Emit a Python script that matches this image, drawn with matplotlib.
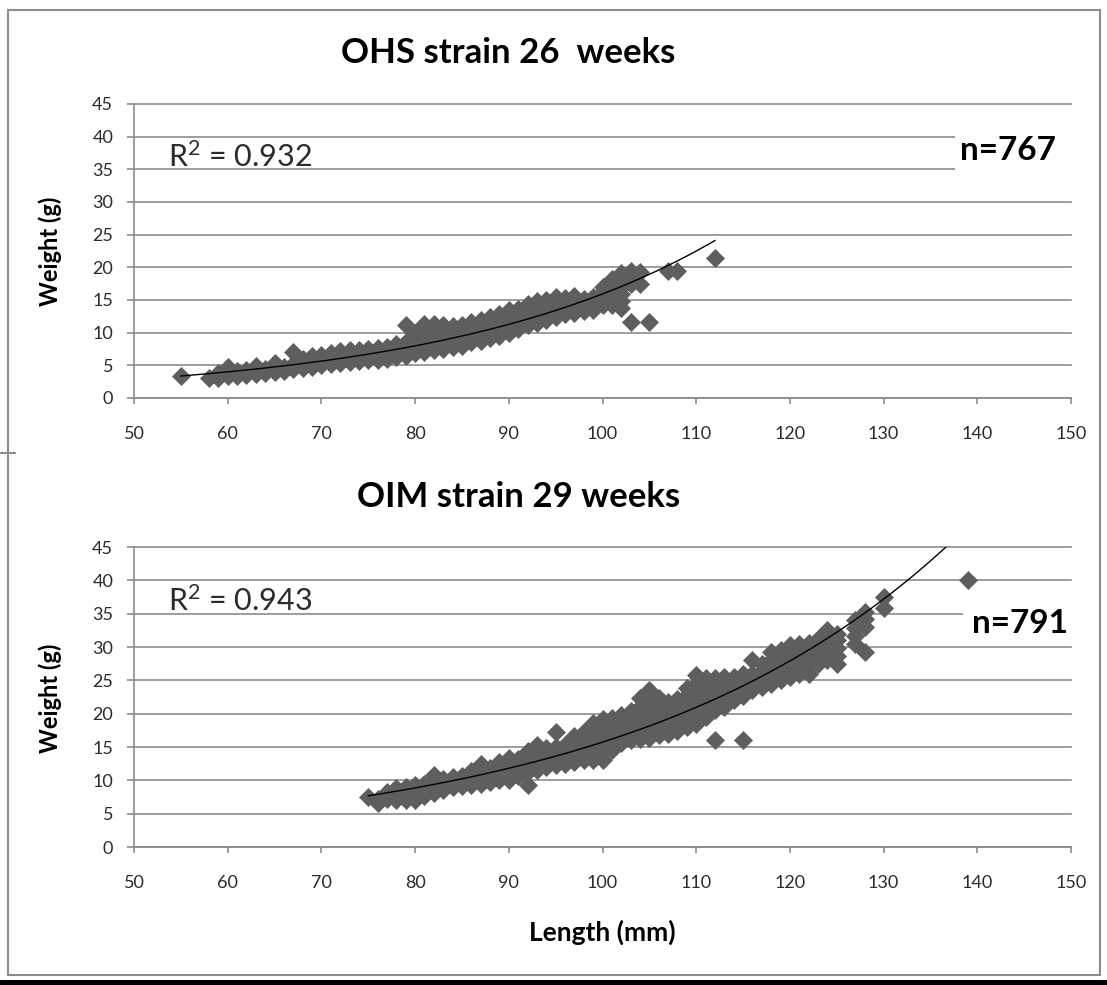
import numpy as np
import matplotlib
matplotlib.use("Agg")
import matplotlib.pyplot as plt
from matplotlib.patches import Rectangle
from matplotlib.lines import Line2D

plt.rcParams['font.family'] = ['Lato', 'DejaVu Sans']

# OHS strain, 26 weeks: weights (g) for each length (mm)
OHS_LENGTHS = [55, 58, 59, 60, 61, 62, 63, 64, 65, 66, 67, 68, 69, 70, 71, 72, 73, 74, 75, 76,
               77, 78, 79, 80, 81, 82, 83, 84, 85, 86, 87, 88, 89, 90, 91, 92, 93, 94, 95, 96,
               97, 98, 99, 100, 101, 102, 103, 104, 105, 107, 108, 112]
OHS_WEIGHTS = [[3.3], [3.0], [3.1, 3.8], [3.3, 4.0, 4.8], [3.4, 4.2], [3.5, 4.3], [3.6, 4.2, 4.9],
               [3.8, 4.5], [4.0, 4.6, 5.4], [4.2, 4.8], [4.4, 5.2, 7.0], [4.6, 5.4, 6.0],
               [4.8, 5.6, 6.4], [5.0, 5.8, 6.6], [5.2, 6.0, 6.9], [5.4, 6.3, 7.2], [5.5, 6.5, 7.4],
               [5.6, 6.6, 7.4], [5.8, 6.7, 7.5], [5.8, 6.8, 7.6], [6.0, 7.0, 7.8], [6.2, 7.2, 8.2],
               [6.5, 7.5, 8.5, 11.2], [6.9, 8.0, 9.0, 10.0], [7.1, 8.2, 9.3, 10.4, 11.3],
               [7.3, 8.4, 9.5, 10.5, 11.4], [7.5, 8.6, 9.7, 10.8, 11.2], [7.8, 8.9, 10.0, 11.0],
               [8.0, 9.1, 10.2, 11.2], [8.5, 9.5, 10.5, 11.6], [8.8, 9.8, 10.8, 11.9],
               [9.2, 10.2, 11.3, 12.4], [9.5, 10.6, 11.7, 12.8], [10.0, 11.0, 12.2, 13.4],
               [10.5, 11.5, 12.6, 13.6], [11.1, 12.2, 13.3, 14.4], [11.5, 12.6, 13.7, 14.8],
               [12.0, 13.0, 14.0, 15.0], [12.4, 13.4, 14.4, 15.4], [12.9, 13.9, 14.8, 15.3],
               [13.0, 14.0, 15.0, 15.6], [13.3, 14.3, 15.2], [13.5, 14.5, 15.5],
               [14.2, 15.2, 16.2, 17.0], [14.2, 15.3, 16.4, 17.5, 18.2],
               [13.8, 14.8, 15.9, 17.0, 18.2, 19.2], [11.6, 17.5, 18.6, 19.5], [17.4, 19.3],
               [11.6], [19.4], [19.4], [21.4]]

# OIM strain, 29 weeks
OIM_LENGTHS = [75, 76, 77, 78, 79, 80, 81, 82, 83, 84, 85, 86, 87, 88, 89, 90, 91, 92, 93, 94,
               95, 96, 97, 98, 99, 100, 101, 102, 103, 104, 105, 106, 107, 108, 109, 110, 111,
               112, 113, 114, 115, 116, 117, 118, 119, 120, 121, 122, 123, 124, 125, 127, 128,
               130, 139]
OIM_WEIGHTS = [[7.5], [6.6, 7.2], [7.2, 8.2], [7.0, 8.0, 8.8], [7.0, 8.0, 9.0], [7.1, 8.2, 9.3],
               [7.6, 8.6, 9.5], [8.1, 9.2, 10.0, 10.8], [8.6, 9.4, 10.2], [9.0, 9.8, 10.5],
               [9.1, 10.0, 10.6], [9.3, 10.3, 11.4], [9.5, 10.5, 11.5, 12.5], [9.8, 10.8, 11.8],
               [10.0, 11.0, 12.0, 12.8], [10.1, 11.1, 12.2, 13.3], [10.6, 11.6, 12.6, 13.2],
               [9.3, 11.3, 12.3, 13.4, 14.4], [11.6, 12.6, 13.6, 14.6, 15.3],
               [12.0, 13.0, 14.0, 14.8], [12.3, 13.3, 14.3, 15.0, 17.3], [12.5, 13.5, 14.5, 15.3],
               [12.8, 13.8, 14.8, 15.8, 16.6], [13.0, 14.0, 15.0, 16.0, 17.2],
               [13.0, 14.2, 15.4, 16.6, 17.8, 18.6], [13.1, 14.3, 15.5, 16.7, 17.9, 19.2],
               [14.6, 15.8, 17.0, 18.2, 19.4], [15.6, 16.7, 17.8, 18.9, 19.8],
               [16.0, 17.1, 18.2, 19.3, 20.4], [16.2, 17.4, 18.6, 19.8, 21.0, 22.4],
               [16.4, 17.6, 18.8, 20.0, 21.2, 22.4, 23.5], [16.8, 18.0, 19.2, 20.4, 21.6, 22.4],
               [17.0, 18.2, 19.4, 20.6, 21.7], [17.4, 18.6, 19.8, 21.0, 22.2],
               [18.0, 19.2, 20.4, 21.6, 22.8, 23.8], [18.5, 19.7, 20.9, 22.1, 23.3, 24.5, 25.8],
               [19.5, 20.7, 21.9, 23.1, 24.3, 25.4], [16.0, 20.5, 21.7, 22.9, 24.1, 25.3],
               [21.0, 22.2, 23.4, 24.5, 25.5], [22.0, 23.2, 24.4, 25.5],
               [16.0, 22.6, 23.8, 25.0, 26.0], [23.5, 24.7, 25.9, 28.0], [24.0, 25.2, 26.4, 27.4],
               [24.5, 25.7, 26.9, 28.1, 29.3], [25.0, 26.2, 27.4, 28.6, 29.6],
               [25.5, 26.7, 27.9, 29.1, 30.3], [26.0, 27.2, 28.4, 29.6, 30.4],
               [26.0, 27.2, 28.4, 29.6, 30.6], [27.5, 28.7, 29.9, 31.2],
               [28.0, 29.2, 30.4, 31.6, 32.5], [27.5, 28.7, 29.9, 31.0, 32.0],
               [30.5, 31.7, 32.9, 34.0], [29.3, 33.0, 34.2, 35.2], [35.8, 37.5], [40.0]]

TITLES = ["OHS strain 26  weeks", "OIM strain 29 weeks"]
R2_LABELS = [r"R$\mathregular{^2}$ = 0.932", r"R$\mathregular{^2}$ = 0.943"]
N_LABELS = ["n=767", "n=791"]
X_TICKS = [50, 60, 70, 80, 90, 100, 110, 120, 130, 140, 150]
Y_TICKS = [0, 5, 10, 15, 20, 25, 30, 35, 40, 45]

W, H = 1107, 985
GRID = '#8c8c8c'
MARK = '#5e5e5e'
TXT = '#2b2b2b'


def flatten(lengths, weights):
    xs, ys = [], []
    for l, ws in zip(lengths, weights):
        for w in ws:
            xs.append(l)
            ys.append(w)
    return np.array(xs, float), np.array(ys, float)


def px_box(left, top, right, bottom):
    return [left / W, 1 - bottom / H, (right - left) / W, (bottom - top) / H]


def ftext(x, y, s, **kw):
    fig.text(x / W, 1 - y / H, s, **kw)


fig = plt.figure(figsize=(W / 100, H / 100), dpi=100)
fig.patch.set_facecolor('white')

ax1 = fig.add_axes(px_box(134, 104, 1071, 398))
ax2 = fig.add_axes(px_box(134, 547, 1071, 847))

panels = [(ax1, OHS_LENGTHS, OHS_WEIGHTS), (ax2, OIM_LENGTHS, OIM_WEIGHTS)]
for ax, lengths, weights in panels:
    x, y = flatten(lengths, weights)
    ax.set_xlim(50, 150)
    ax.set_ylim(0, 45)
    ax.set_axisbelow(True)
    ax.set_xticks(X_TICKS)
    ax.set_yticks(Y_TICKS)
    ax.grid(axis='y', color=GRID, lw=1.2)
    for gl in ax.get_ygridlines():
        gl.set_clip_on(False)
    for s in ['top', 'right']:
        ax.spines[s].set_visible(False)
    for s in ['left', 'bottom']:
        ax.spines[s].set_color(GRID)
        ax.spines[s].set_linewidth(1.2)
    ax.tick_params(axis='y', direction='out', length=5, width=1.2, color=GRID,
                   labelsize=13, labelcolor=TXT, pad=10)
    ax.tick_params(axis='x', direction='out', length=4.5, width=1.2, color=GRID,
                   labelsize=13, labelcolor=TXT, pad=16)

    ax.plot(x, y, linestyle='none', marker='D', ms=9.5, color=MARK, mec=MARK, mew=0.5, zorder=3)

    # exponential trendline (least squares on ln weight), over the data range
    b, ln_a = np.polyfit(x, np.log(y), 1)
    xt = np.linspace(x.min(), x.max(), 200)
    ax.plot(xt, np.exp(ln_a + b * xt), color='black', lw=1.0, zorder=4)

# white label boxes behind the n= labels hide the gridlines
ax1.add_patch(Rectangle((137.6, 32.0), 14, 10.0, facecolor='white', edgecolor='none',
                        zorder=2, clip_on=False))
ax2.add_patch(Rectangle((138.5, 31.5), 13, 6.5, facecolor='white', edgecolor='none',
                        zorder=2, clip_on=False))

ax1.text(53.6, 35.4, R2_LABELS[0], fontsize=22, color=TXT, va='baseline', ha='left', zorder=5)
ax2.text(53.6, 35.4, R2_LABELS[1], fontsize=22, color=TXT, va='baseline', ha='left', zorder=5)

ftext(960, 160, N_LABELS[0], fontsize=24, fontweight='bold', color='black', va='baseline')
ftext(972, 633, N_LABELS[1], fontsize=24, fontweight='bold', color='black', va='baseline')

ftext(508, 63, TITLES[0], fontsize=25, fontweight='bold', color='black', ha='center', va='baseline')
ftext(519, 507, TITLES[1], fontsize=25, fontweight='bold', color='black', ha='center', va='baseline')

ftext(50, 251, "Weight (g)", fontsize=17, fontweight='bold', color='black', rotation=90,
      ha='center', va='center')
ftext(50, 698, "Weight (g)", fontsize=17, fontweight='bold', color='black', rotation=90,
      ha='center', va='center')
ftext(602, 941, "Length (mm)", fontsize=19, fontweight='bold', color='black', ha='center',
      va='baseline')

# chart area frame
fig.add_artist(Rectangle((8 / W, 1 - 975 / H), (1100 - 8) / W, (975 - 10) / H,
                         transform=fig.transFigure, fill=False, edgecolor=GRID, lw=1.5))
fig.add_artist(Line2D([0, 15 / W], [1 - 453 / H, 1 - 453 / H], transform=fig.transFigure,
                      color=GRID, lw=1.5))
fig.add_artist(Rectangle((0, 0), 1, 5 / H, transform=fig.transFigure, facecolor='black',
                         edgecolor='none'))

fig.savefig('out.png', dpi=100, facecolor='white')
